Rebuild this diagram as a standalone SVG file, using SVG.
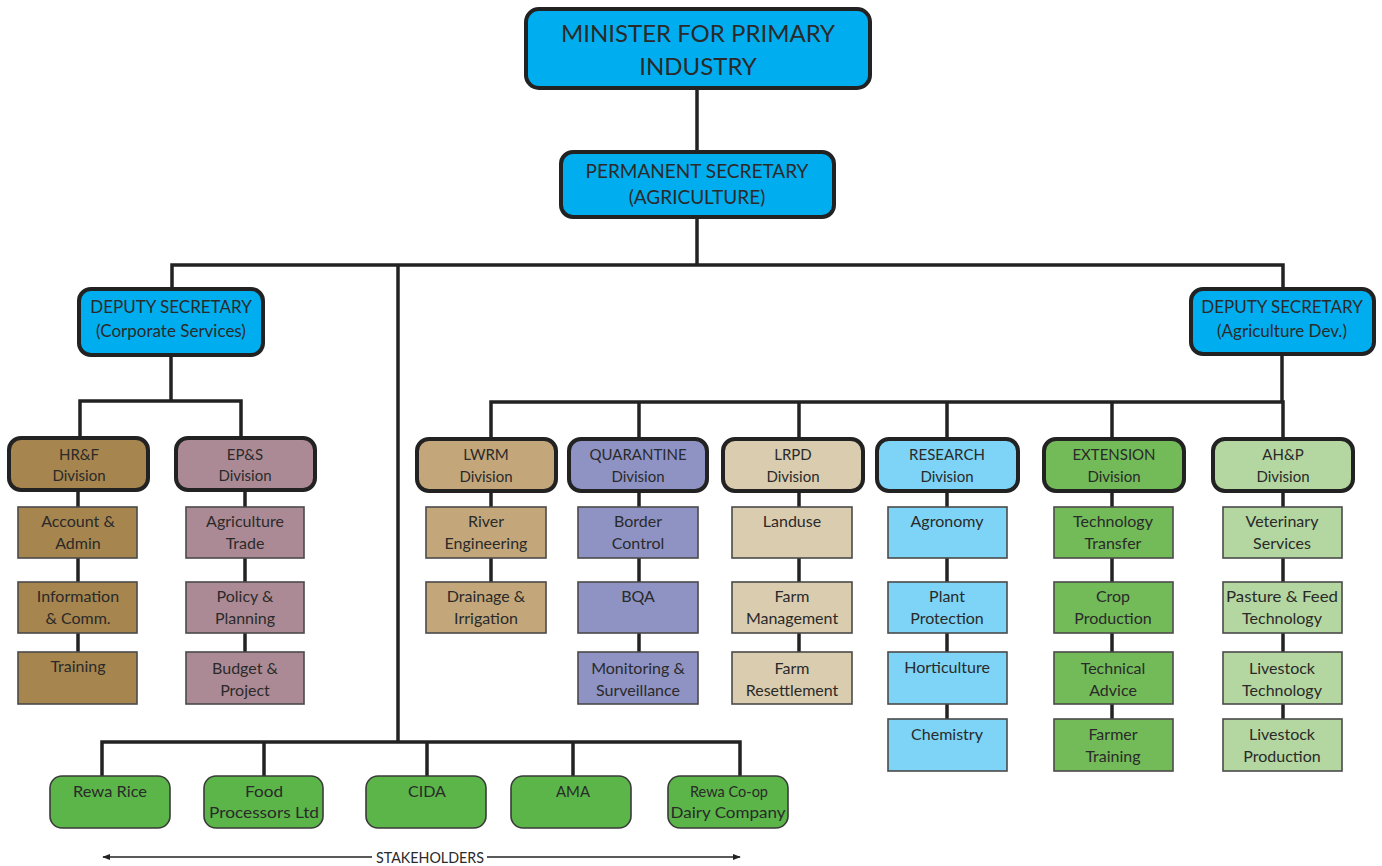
<svg xmlns="http://www.w3.org/2000/svg" width="1382" height="866" viewBox="0 0 1382 866">
  <style>
    text { font-family: Lato, "Liberation Sans", "DejaVu Sans", sans-serif; fill: #2a2a2a; text-anchor: middle; }
    .top { fill: #00AEEF; stroke: #222; stroke-width: 4; }
    .div { stroke: #222; stroke-width: 4; }
    .sub { stroke: #4a4a4a; stroke-width: 1.6; }
    .stk { fill: #5BB548; stroke: #3a3a3a; stroke-width: 1.6; }
    .t1 { font-size: 24px; }
    .t2 { font-size: 19px; }
    .t3 { font-size: 17px; }
    .t4 { font-size: 15px; }
    .t5 { font-size: 16px; }
    .t6 { font-size: 16px; }
    .conn { fill: none; stroke: #222; stroke-width: 3.5; }
    .hrf { fill: #A6854E; } .eps { fill: #AC8A95; } .lwrm { fill: #C3A77A; }
    .qua { fill: #8F93C4; } .lrpd { fill: #DACCAF; } .res { fill: #7DD4F6; }
    .ext { fill: #72BB58; } .ahp { fill: #B4D6A1; }
  </style>
  <defs>
    <marker id="arr" viewBox="0 0 10 10" refX="9" refY="5" markerWidth="8" markerHeight="8" orient="auto-start-reverse" markerUnits="userSpaceOnUse">
      <path d="M0,1 L10,5 L0,9 z" fill="#222"/>
    </marker>
  </defs>
  <rect width="1382" height="866" fill="#fff"/>

  <g id="connectors" class="conn">
    <path d="M697,88 V152"/>
    <path d="M697,217 V265"/>
    <path d="M172,288 V265 H1283 V288"/>
    <path d="M398,265 V742"/>
    <path d="M171,355 V401"/>
    <path d="M80,438 V401 H241 V438"/>
    <path d="M1282,354 V402"/>
    <path d="M491,439 V402 H1283 V439"/>
    <path d="M639,402 V439"/>
    <path d="M799,402 V439"/>
    <path d="M947,402 V439"/>
    <path d="M1112,402 V439"/>
    <path d="M78,490 V652"/>
    <path d="M245,490 V652"/>
    <path d="M491,491 V582"/>
    <path d="M639,491 V652"/>
    <path d="M799,491 V652"/>
    <path d="M947,491 V719"/>
    <path d="M1112,491 V719"/>
    <path d="M1283,491 V719"/>
    <path d="M102,776 V742 H740 V776"/>
    <path d="M264,742 V776"/>
    <path d="M427,742 V776"/>
    <path d="M573,742 V776"/>
  </g>

  <g id="minister">
    <rect class="top" x="526" y="9" width="344" height="79" rx="13"/>
    <text class="t1" x="698" y="42">MINISTER FOR PRIMARY</text>
    <text class="t1" x="698" y="75">INDUSTRY</text>
  </g>
  <g id="perm-sec">
    <rect class="top" x="561" y="152" width="273" height="65" rx="12"/>
    <text class="t2" x="697" y="178">PERMANENT SECRETARY</text>
    <text class="t2" x="697" y="204">(AGRICULTURE)</text>
  </g>
  <g id="dep-sec-corp">
    <rect class="top" x="79" y="289" width="184" height="66" rx="12"/>
    <text class="t3" x="171" y="313">DEPUTY SECRETARY</text>
    <text class="t3" x="171" y="337">(Corporate Services)</text>
  </g>
  <g id="dep-sec-agri">
    <rect class="top" x="1191" y="289" width="183" height="65" rx="12"/>
    <text class="t3" x="1282" y="313">DEPUTY SECRETARY</text>
    <text class="t3" x="1282" y="337">(Agriculture Dev.)</text>
  </g>

  <!-- Corporate services divisions -->
  <g id="hrf">
    <rect class="div hrf" x="9" y="438" width="139" height="52" rx="12"/>
    <text class="t4" x="79" y="460">HR&amp;F</text>
    <text class="t4" x="79" y="481">Division</text>
    <rect class="sub hrf" x="18" y="507" width="119" height="51"/>
    <text class="t5" x="78" y="527">Account &amp;</text>
    <text class="t5" x="78" y="549">Admin</text>
    <rect class="sub hrf" x="18" y="582" width="119" height="51"/>
    <text class="t5" x="78" y="602">Information</text>
    <text class="t5" x="78" y="624">&amp; Comm.</text>
    <rect class="sub hrf" x="18" y="652" width="119" height="52"/>
    <text class="t5" x="78" y="672">Training</text>
  </g>
  <g id="eps">
    <rect class="div eps" x="176" y="438" width="139" height="52" rx="12"/>
    <text class="t4" x="245" y="460">EP&amp;S</text>
    <text class="t4" x="245" y="481">Division</text>
    <rect class="sub eps" x="186" y="507" width="118" height="51"/>
    <text class="t5" x="245" y="527">Agriculture</text>
    <text class="t5" x="245" y="549">Trade</text>
    <rect class="sub eps" x="186" y="582" width="118" height="51"/>
    <text class="t5" x="245" y="602">Policy &amp;</text>
    <text class="t5" x="245" y="624">Planning</text>
    <rect class="sub eps" x="186" y="652" width="118" height="52"/>
    <text class="t5" x="245" y="674">Budget &amp;</text>
    <text class="t5" x="245" y="696">Project</text>
  </g>

  <!-- Agriculture development divisions -->
  <g id="lwrm">
    <rect class="div lwrm" x="417" y="439" width="139" height="52" rx="12"/>
    <text class="t4" x="486" y="460">LWRM</text>
    <text class="t4" x="486" y="482">Division</text>
    <rect class="sub lwrm" x="426" y="507" width="120" height="51"/>
    <text class="t5" x="486" y="527">River</text>
    <text class="t5" x="486" y="549">Engineering</text>
    <rect class="sub lwrm" x="426" y="582" width="120" height="51"/>
    <text class="t5" x="486" y="602">Drainage &amp;</text>
    <text class="t5" x="486" y="624">Irrigation</text>
  </g>
  <g id="quarantine">
    <rect class="div qua" x="569" y="439" width="138" height="52" rx="12"/>
    <text class="t4" x="638" y="460">QUARANTINE</text>
    <text class="t4" x="638" y="482">Division</text>
    <rect class="sub qua" x="578" y="507" width="120" height="51"/>
    <text class="t5" x="638" y="527">Border</text>
    <text class="t5" x="638" y="549">Control</text>
    <rect class="sub qua" x="578" y="582" width="120" height="51"/>
    <text class="t5" x="638" y="602">BQA</text>
    <rect class="sub qua" x="578" y="652" width="120" height="52"/>
    <text class="t5" x="638" y="674">Monitoring &amp;</text>
    <text class="t5" x="638" y="696">Surveillance</text>
  </g>
  <g id="lrpd">
    <rect class="div lrpd" x="723" y="439" width="140" height="52" rx="12"/>
    <text class="t4" x="793" y="460">LRPD</text>
    <text class="t4" x="793" y="482">Division</text>
    <rect class="sub lrpd" x="732" y="507" width="120" height="51"/>
    <text class="t5" x="792" y="527">Landuse</text>
    <rect class="sub lrpd" x="732" y="582" width="120" height="51"/>
    <text class="t5" x="792" y="602">Farm</text>
    <text class="t5" x="792" y="624">Management</text>
    <rect class="sub lrpd" x="732" y="652" width="120" height="52"/>
    <text class="t5" x="792" y="674">Farm</text>
    <text class="t5" x="792" y="696">Resettlement</text>
  </g>
  <g id="research">
    <rect class="div res" x="877" y="439" width="141" height="52" rx="12"/>
    <text class="t4" x="947" y="460">RESEARCH</text>
    <text class="t4" x="947" y="482">Division</text>
    <rect class="sub res" x="888" y="507" width="119" height="51"/>
    <text class="t5" x="947" y="527">Agronomy</text>
    <rect class="sub res" x="888" y="582" width="119" height="51"/>
    <text class="t5" x="947" y="602">Plant</text>
    <text class="t5" x="947" y="624">Protection</text>
    <rect class="sub res" x="888" y="652" width="119" height="52"/>
    <text class="t5" x="947" y="673">Horticulture</text>
    <rect class="sub res" x="888" y="719" width="119" height="52"/>
    <text class="t5" x="947" y="740">Chemistry</text>
  </g>
  <g id="extension">
    <rect class="div ext" x="1044" y="439" width="140" height="52" rx="12"/>
    <text class="t4" x="1114" y="460">EXTENSION</text>
    <text class="t4" x="1114" y="482">Division</text>
    <rect class="sub ext" x="1054" y="507" width="119" height="51"/>
    <text class="t5" x="1113" y="527">Technology</text>
    <text class="t5" x="1113" y="549">Transfer</text>
    <rect class="sub ext" x="1054" y="582" width="119" height="51"/>
    <text class="t5" x="1113" y="602">Crop</text>
    <text class="t5" x="1113" y="624">Production</text>
    <rect class="sub ext" x="1054" y="652" width="119" height="52"/>
    <text class="t5" x="1113" y="674">Technical</text>
    <text class="t5" x="1113" y="696">Advice</text>
    <rect class="sub ext" x="1054" y="719" width="119" height="52"/>
    <text class="t5" x="1113" y="740">Farmer</text>
    <text class="t5" x="1113" y="762">Training</text>
  </g>
  <g id="ahp">
    <rect class="div ahp" x="1213" y="439" width="140" height="52" rx="12"/>
    <text class="t4" x="1283" y="460">AH&amp;P</text>
    <text class="t4" x="1283" y="482">Division</text>
    <rect class="sub ahp" x="1223" y="507" width="119" height="51"/>
    <text class="t5" x="1282" y="527">Veterinary</text>
    <text class="t5" x="1282" y="549">Services</text>
    <rect class="sub ahp" x="1223" y="582" width="119" height="51"/>
    <text class="t5" x="1282" y="602" textLength="112" lengthAdjust="spacingAndGlyphs">Pasture &amp; Feed</text>
    <text class="t5" x="1282" y="624">Technology</text>
    <rect class="sub ahp" x="1223" y="652" width="119" height="52"/>
    <text class="t5" x="1282" y="674">Livestock</text>
    <text class="t5" x="1282" y="696">Technology</text>
    <rect class="sub ahp" x="1223" y="719" width="119" height="52"/>
    <text class="t5" x="1282" y="740">Livestock</text>
    <text class="t5" x="1282" y="762">Production</text>
  </g>

  <!-- Stakeholders (condensed lettering) -->
  <g id="rewa-rice">
    <rect class="stk" x="50" y="776" width="120" height="52" rx="12"/>
    <text class="t6" x="110" y="797" textLength="74" lengthAdjust="spacingAndGlyphs">Rewa Rice</text>
  </g>
  <g id="food-processors">
    <rect class="stk" x="204" y="776" width="119" height="52" rx="12"/>
    <text class="t6" x="264" y="797" textLength="38" lengthAdjust="spacingAndGlyphs">Food</text>
    <text class="t6" x="264" y="818" textLength="110" lengthAdjust="spacingAndGlyphs">Processors Ltd</text>
  </g>
  <g id="cida">
    <rect class="stk" x="366" y="776" width="120" height="52" rx="12"/>
    <text class="t6" x="427" y="797" textLength="38" lengthAdjust="spacingAndGlyphs">CIDA</text>
  </g>
  <g id="ama">
    <rect class="stk" x="511" y="776" width="120" height="52" rx="12"/>
    <text class="t6" x="573" y="797" textLength="34" lengthAdjust="spacingAndGlyphs">AMA</text>
  </g>
  <g id="rewa-coop">
    <rect class="stk" x="668" y="776" width="120" height="52" rx="12"/>
    <text class="t6" x="729" y="797" textLength="78" lengthAdjust="spacingAndGlyphs">Rewa Co-op</text>
    <text class="t6" x="728" y="818" textLength="115" lengthAdjust="spacingAndGlyphs">Dairy Company</text>
  </g>

  <g id="stakeholders-label">
    <line x1="103" y1="857" x2="372" y2="857" stroke="#222" stroke-width="1.5" marker-start="url(#arr)"/>
    <line x1="487" y1="857" x2="740" y2="857" stroke="#222" stroke-width="1.5" marker-end="url(#arr)"/>
    <text x="430" y="863" font-size="15" textLength="108" lengthAdjust="spacingAndGlyphs">STAKEHOLDERS</text>
  </g>
</svg>
